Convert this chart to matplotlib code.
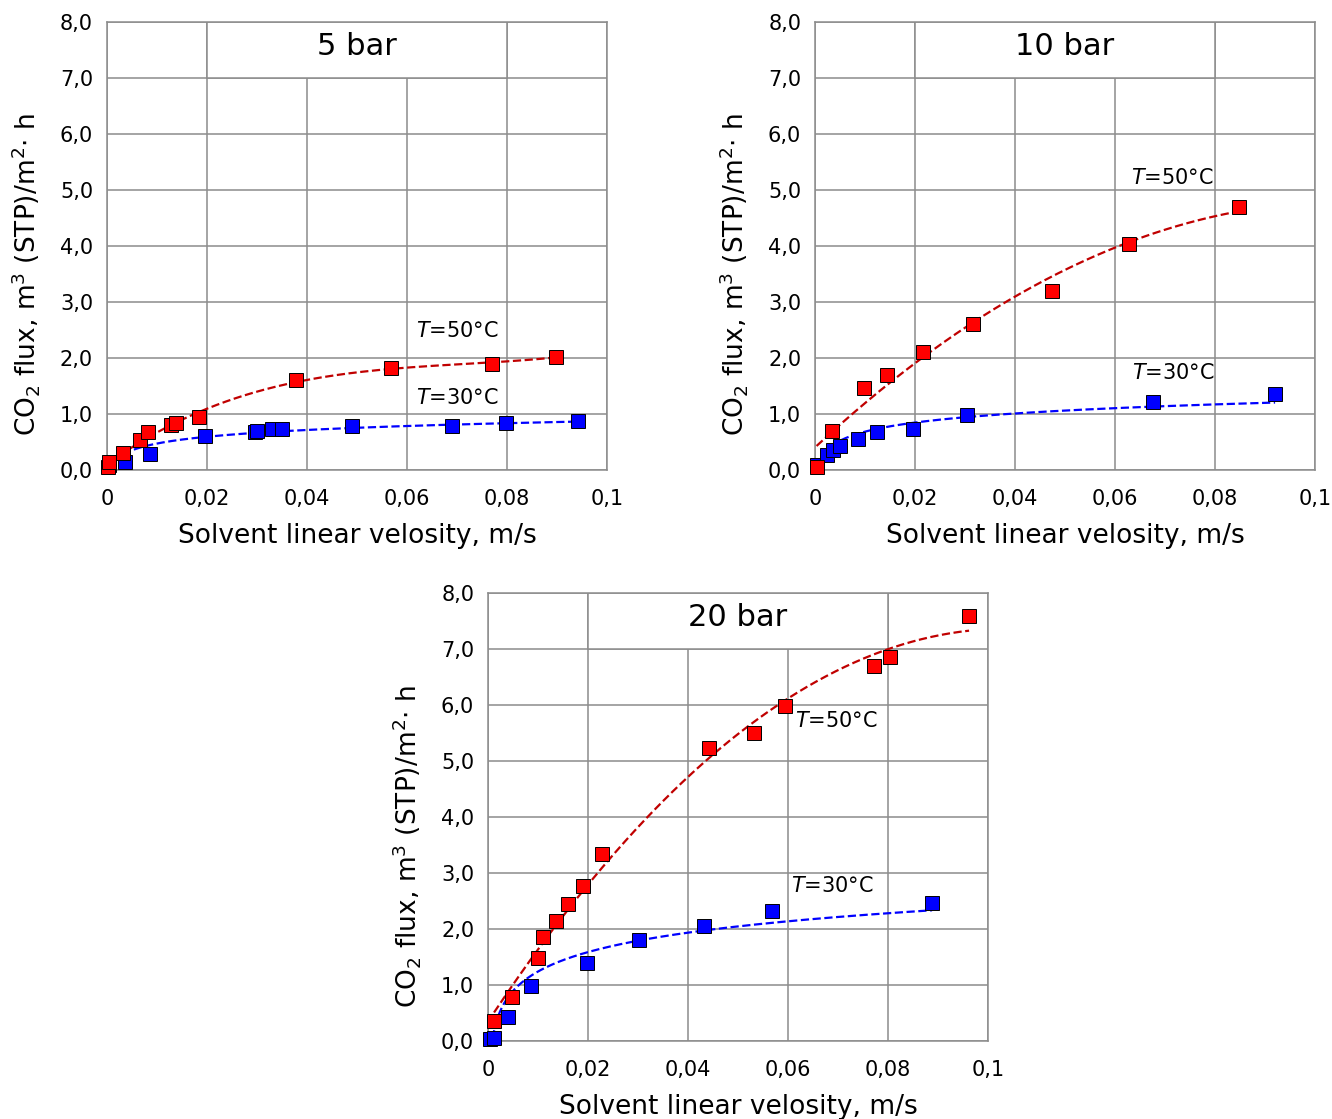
import numpy as np
import matplotlib.pyplot as plt
from matplotlib.patches import Rectangle

# 5 bar
x5_50 = [0.0003, 0.0005, 0.0033, 0.0066, 0.0083, 0.0129, 0.0138, 0.0185, 0.0379, 0.0569, 0.0771, 0.0899]
y5_50 = [0.05, 0.15, 0.31, 0.54, 0.68, 0.80, 0.83, 0.94, 1.60, 1.82, 1.90, 2.02]
x5_30 = [0.0005, 0.0036, 0.0087, 0.0196, 0.0296, 0.0300, 0.0331, 0.0351, 0.0491, 0.0691, 0.0799, 0.0943]
y5_30 = [0.08, 0.15, 0.28, 0.60, 0.67, 0.70, 0.73, 0.74, 0.79, 0.79, 0.83, 0.88]

# 10 bar
x10_50 = [0.0003, 0.0033, 0.0097, 0.0143, 0.0215, 0.0315, 0.0474, 0.0627, 0.0847]
y10_50 = [0.05, 0.70, 1.46, 1.70, 2.11, 2.60, 3.20, 4.04, 4.70]
x10_30 = [0.0003, 0.0023, 0.0035, 0.0049, 0.0085, 0.0123, 0.0195, 0.0303, 0.0675, 0.0920]
y10_30 = [0.08, 0.27, 0.36, 0.42, 0.55, 0.67, 0.74, 0.99, 1.22, 1.36]

# 20 bar
x20_50 = [0.0012, 0.0047, 0.0099, 0.0109, 0.0136, 0.0159, 0.0189, 0.0228, 0.0441, 0.0531, 0.0593, 0.0772, 0.0803, 0.0962]
y20_50 = [0.36, 0.78, 1.49, 1.86, 2.15, 2.45, 2.76, 3.34, 5.24, 5.50, 5.99, 6.70, 6.86, 7.59]
x20_30 = [0.0004, 0.0012, 0.0039, 0.0085, 0.0197, 0.0301, 0.0432, 0.0567, 0.0888]
y20_30 = [0.03, 0.05, 0.42, 0.99, 1.40, 1.80, 2.06, 2.32, 2.46]

xticks = [0, 0.02, 0.04, 0.06, 0.08, 0.1]
xtick_labels = ['0', '0,02', '0,04', '0,06', '0,08', '0,1']
yticks = [0, 1, 2, 3, 4, 5, 6, 7, 8]
ytick_labels = ['0,0', '1,0', '2,0', '3,0', '4,0', '5,0', '6,0', '7,0', '8,0']

GRID = '#8c8c8c'


def draw_panel(ax, title, x50, y50, x30, y30, lab50, lab30, deg50=2):
    ax.set_xlim(0, 0.1)
    ax.set_ylim(0, 8)
    ax.set_xticks(xticks)
    ax.set_xticklabels(xtick_labels)
    ax.set_yticks(yticks)
    ax.set_yticklabels(ytick_labels)
    ax.tick_params(length=0, labelsize=15)
    ax.tick_params(axis='x', pad=14)
    ax.tick_params(axis='y', pad=10)
    ax.grid(True, color=GRID, linewidth=1.1)
    ax.set_axisbelow(True)
    for s in ax.spines.values():
        s.set_color(GRID)
        s.set_linewidth(1.1)

    # title box on top of the grid
    ax.add_patch(Rectangle((0.02, 7), 0.06, 1, facecolor='white', edgecolor=GRID,
                           linewidth=1.1, zorder=1.5))
    ax.text(0.05, 7.57, title, ha='center', va='center', fontsize=22, zorder=3)

    # trendlines: polynomial for 50C, logarithmic for 30C
    x50 = np.array(x50)
    x30 = np.array(x30)
    p = np.polyfit(x50, y50, deg50)
    xx = np.linspace(x50.min(), x50.max(), 200)
    ax.plot(xx, np.polyval(p, xx), '--', color='#c00000', linewidth=1.6, zorder=2)
    q = np.polyfit(np.log(x30), y30, 1)
    xx = np.linspace(x30.min(), x30.max(), 400)
    ax.plot(xx, np.polyval(q, np.log(xx)), '--', color='#0000ff', linewidth=1.6, zorder=2)

    ax.plot(x30, y30, 's', color='#0000ff', markeredgecolor='black', markeredgewidth=0.7,
            markersize=10, clip_on=False, zorder=4)
    ax.plot(x50, y50, 's', color='#ff0000', markeredgecolor='black', markeredgewidth=0.7,
            markersize=10, clip_on=False, zorder=4)

    ax.text(lab50[0], lab50[1], r'$T$=50°C', ha='center', va='center', fontsize=15, zorder=3)
    ax.text(lab30[0], lab30[1], r'$T$=30°C', ha='center', va='center', fontsize=15, zorder=3)

    ax.set_xlabel('Solvent linear velosity, m/s', fontsize=19, labelpad=10)
    ax.set_ylabel(r'CO$_2$ flux, m$^3$ (STP)/m$^2$$\cdot$ h', fontsize=19)
    ax.yaxis.set_label_coords(-0.13, 0.435)


fig = plt.figure(figsize=(13.32, 11.19), dpi=100)
ax1 = fig.add_axes([0.0803, 0.5800, 0.3754, 0.4004])
ax2 = fig.add_axes([0.6119, 0.5800, 0.3754, 0.4004])
ax3 = fig.add_axes([0.3664, 0.0697, 0.3754, 0.4004])

draw_panel(ax1, '5 bar', x5_50, y5_50, x5_30, y5_30, (0.070, 2.48), (0.070, 1.29), deg50=3)
draw_panel(ax2, '10 bar', x10_50, y10_50, x10_30, y10_30, (0.0714, 5.21), (0.0716, 1.73))
draw_panel(ax3, '20 bar', x20_50, y20_50, x20_30, y20_30, (0.0696, 5.71), (0.0688, 2.77))

fig.savefig('out.png', dpi=100)
